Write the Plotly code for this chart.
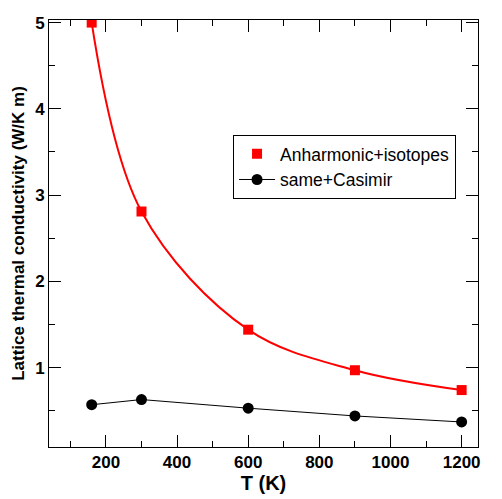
import plotly.graph_objects as go

T = [160, 300, 600, 900, 1200]
kappa_anh = [5.0, 2.81, 1.44, 0.97, 0.74]
kappa_cas = [0.57, 0.63, 0.53, 0.44, 0.37]

x_ticks = [200, 400, 600, 800, 1000, 1200]
y_ticks = [1, 2, 3, 4, 5]

FONT = "Liberation Sans, Arial, Helvetica"

fig = go.Figure()
fig.add_trace(go.Scatter(x=T, y=kappa_anh, mode="lines", line=dict(color="#ff0000", width=2, shape="spline", smoothing=1.0),
                         showlegend=False, hoverinfo="skip"))
fig.add_trace(go.Scatter(x=T, y=kappa_anh, mode="markers", name="Anharmonic+isotopes",
                         marker=dict(symbol="square", size=10, color="#ff0000")))
fig.add_trace(go.Scatter(x=T, y=kappa_cas, mode="lines+markers", name="same+Casimir",
                         line=dict(color="black", width=1),
                         marker=dict(symbol="circle", size=11, color="black")))

axis_common = dict(showgrid=False, zeroline=False, showline=True, linecolor="black", linewidth=1,
                   mirror="ticks", ticks="inside", ticklen=12, tickwidth=1, tickcolor="black",
                   tickfont=dict(family=FONT, size=17, color="black", weight="bold"))

fig.update_layout(
    width=502, height=499,
    margin=dict(l=49, r=24, t=20, b=52),
    paper_bgcolor="white", plot_bgcolor="white",
    xaxis=dict(range=[40, 1246], tickvals=x_ticks,
               minor=dict(dtick=100, tick0=0, ticks="inside", ticklen=6, tickwidth=1, tickcolor="black"),
               title=dict(text="T (K)", font=dict(family=FONT, size=20, color="black", weight="bold"), standoff=2),
               **axis_common),
    yaxis=dict(range=[0.08, 5.03], tickvals=y_ticks,
               minor=dict(dtick=0.5, tick0=0, ticks="inside", ticklen=6, tickwidth=1, tickcolor="black"),
               title=dict(text="Lattice thermal conductivity (W/K m)", font=dict(family=FONT, size=17, color="black", weight="bold"), standoff=6),
               **axis_common),
    legend=dict(x=0.429, y=0.731, xanchor="left", yanchor="top",
                bgcolor="white", bordercolor="black", borderwidth=1,
                font=dict(family=FONT, size=17.5, color="black"),
                tracegroupgap=0, itemwidth=36),
    showlegend=True,
)

fig.write_html("out.html")
